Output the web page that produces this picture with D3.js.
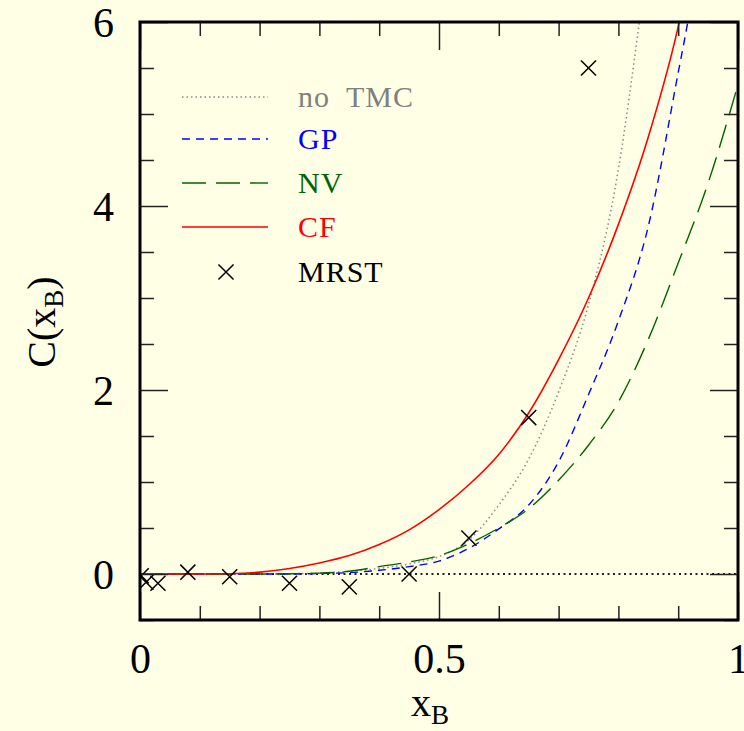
<!DOCTYPE html>
<html>
<head>
<meta charset="utf-8">
<script src="https://cdn.jsdelivr.net/npm/d3@7"></script>
<style>
html,body{margin:0;padding:0;background:#ffffe6;}
svg{display:block;}
text{font-family:"Liberation Serif",serif;}
</style>
</head>
<body>
<svg id="chart" width="744" height="731"></svg>
<script>
// ---- data ----
const noTMC_x = [0, 0.2, 0.3, 0.35, 0.4, 0.45, 0.5, 0.55, 0.6, 0.65, 0.7, 0.75, 0.8, 0.835, 0.845];
const noTMC_y = [0, 0, 0.01, 0.03, 0.06, 0.11, 0.19, 0.37, 0.75, 1.25, 1.98, 2.93, 4.4, 6.0, 6.5];

const GP_x = [0, 0.25, 0.3, 0.35, 0.4, 0.45, 0.5, 0.55, 0.6, 0.65, 0.7, 0.75, 0.8, 0.85, 0.9, 0.916, 0.925];
const GP_y = [0, 0, 0.005, 0.015, 0.04, 0.08, 0.14, 0.28, 0.49, 0.75, 1.22, 1.95, 2.75, 3.78, 5.45, 6.0, 6.35];

const NV_x = [0, 0.2, 0.25, 0.3, 0.35, 0.4, 0.45, 0.5, 0.55, 0.6, 0.65, 0.7, 0.75, 0.8, 0.85, 0.9, 0.95, 1.0];
const NV_y = [0, 0, 0.003, 0.01, 0.03, 0.08, 0.13, 0.2, 0.33, 0.5, 0.71, 1.02, 1.4, 1.87, 2.55, 3.38, 4.25, 5.32];

const CF_x = [0, 0.1, 0.15, 0.2, 0.25, 0.3, 0.35, 0.4, 0.45, 0.5, 0.55, 0.6, 0.65, 0.7, 0.75, 0.8, 0.85, 0.9, 0.91];
const CF_y = [0, 0, 0.003, 0.02, 0.06, 0.12, 0.2, 0.32, 0.48, 0.7, 0.97, 1.3, 1.75, 2.33, 3.0, 3.8, 4.75, 5.95, 6.25];

const MRST_x = [0.002, 0.01, 0.03, 0.08, 0.15, 0.25, 0.35, 0.45, 0.55, 0.65, 0.75];
const MRST_y = [-0.02, -0.09, -0.10, 0.02, -0.03, -0.10, -0.14, 0.0, 0.39, 1.70, 5.50];

const xMajorTicks = [0, 0.5, 1];
const xMinorTicks = [0.1, 0.2, 0.3, 0.4, 0.6, 0.7, 0.8, 0.9];
const yMajorTicks = [0, 2, 4, 6];
const yMinorTicks = [-0.5, 0.5, 1, 1.5, 2.5, 3, 3.5, 4.5, 5, 5.5];
const xTickLabels = ["0", "0.5", "1"];
const yTickLabels = ["0", "2", "4", "6"];

const legendNames = ["no TMC", "GP", "NV", "CF", "MRST"];

// ---- layout ----
const L = 140, R = 738, T = 22, B = 620;
const svg = d3.select("#chart");
const x = d3.scaleLinear().domain([0, 1]).range([L, R]);
const y = d3.scaleLinear().domain([-0.5, 6]).range([B, T]);

svg.append("rect").attr("width", 744).attr("height", 731).attr("fill", "#ffffe6");

svg.append("defs").append("clipPath").attr("id", "clip")
  .append("rect").attr("x", L).attr("y", T).attr("width", R - L).attr("height", B - T);

const styles = {
  "no TMC": {color: "#888888", dash: "1.5,3", width: 1.5},
  "GP": {color: "#0000ff", dash: "8,6", width: 1.4},
  "NV": {color: "#006400", dash: "24,10", width: 1.4},
  "CF": {color: "#ff0000", dash: null, width: 1.6}
};
const series = [
  {name: "no TMC", xs: noTMC_x, ys: noTMC_y},
  {name: "GP", xs: GP_x, ys: GP_y},
  {name: "NV", xs: NV_x, ys: NV_y},
  {name: "CF", xs: CF_x, ys: CF_y}
];

const plot = svg.append("g").attr("clip-path", "url(#clip)");

// zero reference line
plot.append("line")
  .attr("x1", x(0)).attr("x2", x(1)).attr("y1", y(0)).attr("y2", y(0))
  .attr("stroke", "#222").attr("stroke-width", 1.8).attr("stroke-dasharray", "2,3.5");

const line = d3.line().x(d => x(d[0])).y(d => y(d[1])).curve(d3.curveMonotoneX);
series.forEach(s => {
  const st = styles[s.name];
  const pts = s.xs.map((v, i) => [v, s.ys[i]]);
  plot.append("path").datum(pts)
    .attr("d", line).attr("fill", "none")
    .attr("stroke", st.color).attr("stroke-width", st.width)
    .attr("stroke-dasharray", st.dash);
});

const cross = d3.symbol().type(d3.symbolX).size(150);
plot.selectAll("path.mrst").data(MRST_x.map((v, i) => [v, MRST_y[i]])).join("path")
  .attr("class", "mrst")
  .attr("transform", d => `translate(${x(d[0])},${y(d[1])})`)
  .attr("d", cross).attr("fill", "none").attr("stroke", "#000").attr("stroke-width", 1.5);

// ---- axes / ticks (inside, on all sides) ----
function styleTicks(g) {
  g.select(".domain").remove();
  g.selectAll(".tick line").attr("stroke", "#222").attr("stroke-width", 1.5);
}
const fs = 42;
// bottom
svg.append("g").attr("transform", `translate(0,${B})`)
  .call(d3.axisBottom(x).tickValues(xMinorTicks).tickSize(-14).tickFormat(""))
  .call(styleTicks);
const bx = svg.append("g").attr("transform", `translate(0,${B})`)
  .call(d3.axisBottom(x).tickValues(xMajorTicks).tickSize(-28)
        .tickFormat((d, i) => xTickLabels[i]))
  .call(styleTicks);
bx.selectAll(".tick text").attr("y", 53).attr("dy", 0)
  .style("font-family", "Liberation Serif").style("font-size", fs + "px").attr("fill", "#000");
// top
svg.append("g").attr("transform", `translate(0,${T})`)
  .call(d3.axisTop(x).tickValues(xMinorTicks).tickSize(-14).tickFormat(""))
  .call(styleTicks);
svg.append("g").attr("transform", `translate(0,${T})`)
  .call(d3.axisTop(x).tickValues(xMajorTicks).tickSize(-28).tickFormat(""))
  .call(styleTicks);
// left
svg.append("g").attr("transform", `translate(${L},0)`)
  .call(d3.axisLeft(y).tickValues(yMinorTicks).tickSize(-14).tickFormat(""))
  .call(styleTicks);
const ly = svg.append("g").attr("transform", `translate(${L},0)`)
  .call(d3.axisLeft(y).tickValues(yMajorTicks).tickSize(-28)
        .tickFormat((d, i) => yTickLabels[i]))
  .call(styleTicks);
ly.selectAll(".tick text").attr("x", -26).attr("dy", "0.34em")
  .style("font-family", "Liberation Serif").style("font-size", fs + "px").attr("fill", "#000");
// right
svg.append("g").attr("transform", `translate(${R},0)`)
  .call(d3.axisRight(y).tickValues(yMinorTicks).tickSize(-14).tickFormat(""))
  .call(styleTicks);
svg.append("g").attr("transform", `translate(${R},0)`)
  .call(d3.axisRight(y).tickValues(yMajorTicks).tickSize(-28).tickFormat(""))
  .call(styleTicks);

// frame
svg.append("rect").attr("x", L).attr("y", T).attr("width", R - L).attr("height", B - T)
  .attr("fill", "none").attr("stroke", "#000").attr("stroke-width", 3);

// axis titles
const xt = svg.append("text").attr("x", 430).attr("y", 716).attr("text-anchor", "middle")
  .style("font-size", "40px").attr("fill", "#000");
xt.append("tspan").text("x");
xt.append("tspan").attr("dy", 8).style("font-size", "27px").text("B");

const yt = svg.append("text").attr("transform", "translate(55,322) rotate(-90)")
  .attr("text-anchor", "middle").style("font-size", "40px").attr("fill", "#000");
yt.append("tspan").text("C(x");
yt.append("tspan").attr("dy", 8).style("font-size", "27px").text("B");
yt.append("tspan").attr("dy", -8).text(")");

// legend
const legY = [97, 139, 183, 227, 272];
const legColors = ["#808080", "#0000ff", "#006400", "#ff0000", "#000000"];
legendNames.forEach((n, i) => {
  if (styles[n]) {
    svg.append("line").attr("x1", 182).attr("x2", 268).attr("y1", legY[i]).attr("y2", legY[i])
      .attr("stroke", styles[n].color).attr("stroke-width", styles[n].width)
      .attr("stroke-dasharray", styles[n].dash);
  } else {
    svg.append("path").attr("transform", `translate(226,${legY[i]})`)
      .attr("d", cross).attr("fill", "none").attr("stroke", "#000").attr("stroke-width", 1.5);
  }
  svg.append("text").attr("x", 298).attr("y", legY[i] + 10)
    .style("font-size", "30px").style("word-spacing", "8px").style("letter-spacing", "1px")
    .attr("fill", legColors[i]).text(n);
});
</script>
</body>
</html>
